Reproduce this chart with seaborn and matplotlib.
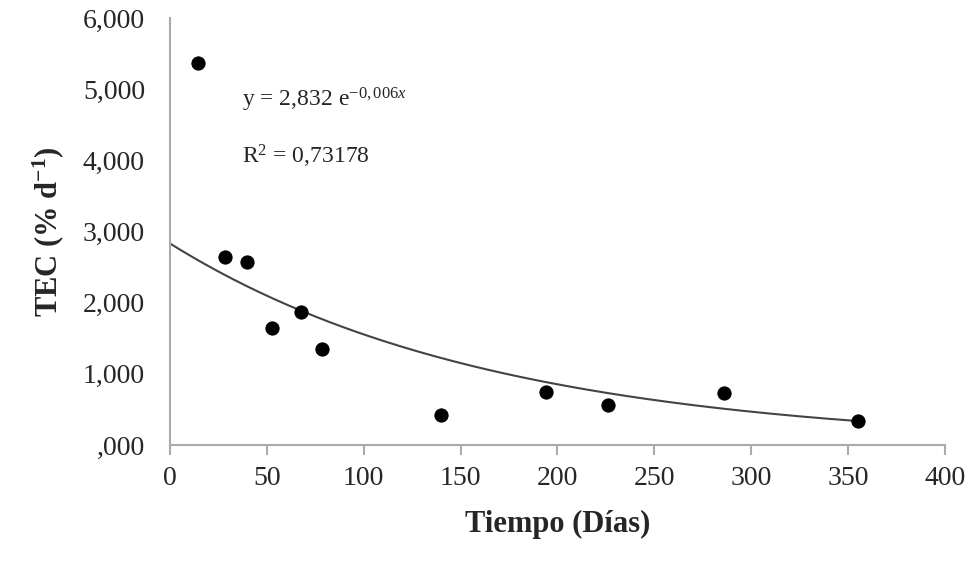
import numpy as np
import matplotlib
matplotlib.use("Agg")
import matplotlib.pyplot as plt
import seaborn as sns
from matplotlib.ticker import FuncFormatter

dias = [14.5, 28.4, 39.7, 52.6, 67.6, 78.5, 140, 194, 226, 286, 355]
tec = [5365, 2640, 2570, 1643, 1868, 1348, 421, 744, 562, 730, 337]
a, b = 2832, -0.006

sns.set_theme(style="white")
plt.rcParams['font.family'] = ['Liberation Serif', 'DejaVu Serif']
plt.rcParams['mathtext.fontset'] = 'custom'
plt.rcParams['mathtext.rm'] = 'Liberation Serif'
plt.rcParams['mathtext.it'] = 'Liberation Serif:italic'
plt.rcParams['mathtext.bf'] = 'Liberation Serif:bold'

fig = plt.figure(figsize=(9.74, 5.63), dpi=100)
ax = fig.add_axes([0.1745, 0.2096, 0.7955, 0.7584])
xf = np.linspace(0, 355, 200)
sns.lineplot(x=xf, y=a*np.exp(b*xf), ax=ax, color="#444444", linewidth=1.5)
sns.scatterplot(x=dias, y=tec, ax=ax, color="black", s=90, edgecolor="black", zorder=3)

ax.set_xlim(0, 400)
ax.set_ylim(0, 6000)
ax.set_xticks(range(0, 401, 50))
ax.set_yticks(range(0, 6001, 1000))
ax.yaxis.set_major_formatter(FuncFormatter(lambda v, p: ",000" if v == 0 else f"{int(v)//1000},000"))
for s in ["top", "right"]:
    ax.spines[s].set_visible(False)
for s in ["left", "bottom"]:
    ax.spines[s].set_color("#aaaaaa")
    ax.spines[s].set_linewidth(1.5)
ax.tick_params(axis="x", bottom=True, length=7, color="#aaaaaa", width=1.5, labelsize=20, pad=8)
ax.tick_params(axis="y", left=False, labelsize=20, pad=12)
ax.set_xlabel("Tiempo (Días)", fontsize=22, fontweight="bold", labelpad=14)
ax.set_ylabel(r"TEC (% d$\mathbf{^{-1}}$)", fontsize=22, fontweight="bold", labelpad=12)
ax.text(37, 4750, r"y = 2,832 e$^{\mathrm{-0,006}\mathit{x}}$", fontsize=17)
ax.text(37, 3950, r"R$^{\mathrm{2}}$ = 0,73178", fontsize=17)
fig.savefig("out.png", dpi=100)
